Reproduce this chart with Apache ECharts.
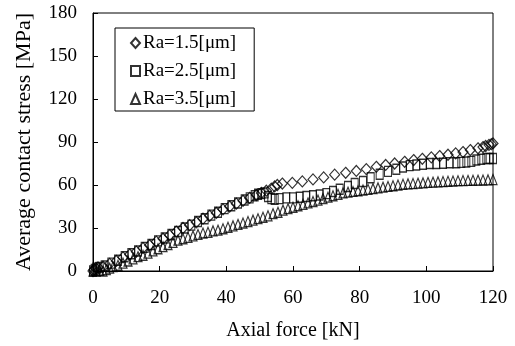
<!DOCTYPE html>
<html>
<head>
<meta charset="utf-8">
<script src="https://cdn.jsdelivr.net/npm/echarts@6/dist/echarts.min.js"></script>
<style>
html,body{margin:0;padding:0;background:#fff;}
#chart{width:515px;height:346px;}
</style>
</head>
<body>
<div id="chart"></div>
<script>
// Series names
const seriesNames = ['Ra=1.5[\u03bcm]', 'Ra=2.5[\u03bcm]', 'Ra=3.5[\u03bcm]'];

// Axial force [kN], average contact stress [MPa] pairs
const ra15 = [
  [0,0],[0.3,1],[0.8,2],[1.5,2.5],[3,3],[5,5],[7,7],[9,9.5],[11,11.5],[13,13.5],
  [15,16],[17,18],[19,20.5],[21,22.5],[23,25],[25,27.5],[27,30],[29,32],[31,34],[33,36.5],
  [35,38.5],[37,40.5],[39,43],[41,45],[43,47],[45,49],[47,51],[49,53],[50.5,54.5],[52,56],
  [53.5,57.5],[54.5,59],[55.3,60],
  [56.8,61],[59.8,61.5],[62.8,62.5],[66,63.9],[69.2,65.3],[72.5,67.2],[75.8,68.5],[79,69.8],
  [82,71.1],[85,72.7],[87.8,74],[90.5,75],[93.5,76.2],[96.2,77.4],[98.8,78.3],[101.5,79.3],
  [104,80.2],[106.5,81.1],[108.8,82.1],[111,83],[113.2,84.4],[115.5,85.6],[117,86.5],
  [117.8,87.2],[118.8,88],[119.5,88.5],[120,89]
];
const ra25 = [
  [0,0],[0.5,1],[1,2],[2,2.5],[3.5,3.5],[5.5,5.5],[7.5,7.5],[9.5,10],[11.5,12],[13.5,14],
  [15.5,16.5],[17.5,18.5],[19.5,21],[21.5,23],[23.5,25.5],[25.5,27.5],[27.5,30],[29.5,32],
  [31.5,34.5],[33.5,36.5],[35.5,39],[37.5,41],[39.5,43.5],[41.5,45.5],[43.5,47.5],[45.5,49.5],
  [47,51],[48.5,52.5],[49.5,53.5],[50.5,54],[51.5,54.5],[52.5,52],[53.5,50.5],[54.5,50],
  [56,50.5],[58,51],[60,51],[62,51.5],[64,52],[66,52.5],[68,53],[70,54],[72,55.5],[74,57],
  [76.5,59],[78.5,61],[81,62.5],[83.3,65],[86,67.5],[88.5,69.5],[91,71],[93,72.5],[95,73.5],
  [97,74],[99,74.5],[101,75],[103,75],[105,75.2],[107,75.5],[109,75.5],[110.5,75.8],[112,76],
  [113.5,76.5],[115,77.5],[116.5,78],[118,78.5],[119,78.5],[120,78.5]
];
const ra35 = [
  [0,0],[1,0],[2,0.5],[3,0],[4,1],[5,2],[6,3],[7.5,4],[9,5.5],[10.5,7],[12,8.5],[13.5,10],
  [15,11],[16.5,12.5],[18,14],[19.5,15.5],[21,17],[22.5,18.5],[24,20],[25.5,21.5],[27,22.5],
  [28.5,23.5],[30,24.5],[31.5,25.5],[33,26.5],[34.5,27],[36,28],[37.5,28.5],[39,29.5],
  [40.5,30.5],[42,31.5],[43.5,32.5],[45,33.5],[46.5,34.5],[48,35.5],[49.5,36.5],[51,37.5],
  [52.5,38.5],[54,40],[55.5,41],[57,42.5],[58.5,43.5],[60,44.5],[61.5,45.5],[63,46.5],
  [64.5,47.5],[66,48.5],[67.5,49.5],[69,50.5],[70.5,51.5],[72,52.5],[73.5,53.5],[75,54.5],
  [76.5,55],[78,55.5],[79.5,56],[81,56.5],[82.5,57],[84,57.5],[85.5,58],[87,58.5],[88.5,59],
  [90,59.5],[91.5,60],[93,60.5],[94.5,60.8],[96,61],[97.5,61.3],[99,61.5],[100.5,61.8],
  [102,62],[103.5,62.2],[105,62.4],[106.5,62.6],[108,62.8],[109.5,63],[111,63.1],[112.5,63.2],
  [114,63.3],[115.5,63.4],[117,63.5],[118.5,63.6],[120,63.8]
];

// Axis settings
const xMin = 0, xMax = 120, xStep = 20;
const yMin = 0, yMax = 180, yStep = 30;
const xTitle = 'Axial force [kN]';
const yTitle = 'Average contact stress [MPa]';

const FONT = "'Liberation Serif', 'Times New Roman', serif";
const chart = echarts.init(document.getElementById('chart'), null, {renderer: 'canvas'});

const markerStyle = {color: 'rgba(0,0,0,0)', borderColor: '#000', borderWidth: 1.2};

chart.setOption({
  animation: false,
  backgroundColor: '#fff',
  grid: {left: 93, right: 22, top: 13, bottom: 75, show: true, borderColor: '#000', borderWidth: 1, backgroundColor: 'transparent'},
  legend: {
    orient: 'vertical',
    left: 115, top: 28,
    padding: [5, 18, 2, 15],
    borderColor: '#000', borderWidth: 1,
    backgroundColor: '#fff',
    itemWidth: 9, itemHeight: 10, itemGap: 8,
    textStyle: {fontFamily: FONT, fontSize: 19, color: '#000', lineHeight: 20, padding: [0,0,0,-2]},
    data: [
      {name: seriesNames[0], icon: 'diamond'},
      {name: seriesNames[1], icon: 'rect'},
      {name: seriesNames[2], icon: 'triangle'}
    ]
  },
  xAxis: {
    type: 'value', min: xMin, max: xMax, interval: xStep,
    name: xTitle, nameLocation: 'middle', nameGap: 50,
    nameTextStyle: {fontFamily: FONT, fontSize: 20, color: '#000'},
    axisLine: {show: true, lineStyle: {color: '#000', width: 1}},
    axisTick: {show: true, inside: true, length: 5, lineStyle: {color: '#000'}},
    axisLabel: {fontFamily: FONT, fontSize: 19, color: '#000', margin: 18},
    splitLine: {show: false}
  },
  yAxis: {
    type: 'value', min: yMin, max: yMax, interval: yStep,
    name: yTitle, nameLocation: 'middle', nameGap: 58,
    nameTextStyle: {fontFamily: FONT, fontSize: 22, color: '#000'},
    axisLine: {show: true, lineStyle: {color: '#000', width: 1}},
    axisTick: {show: true, inside: true, length: 5, lineStyle: {color: '#000'}},
    axisLabel: {fontFamily: FONT, fontSize: 19, color: '#000', margin: 16},
    splitLine: {show: false}
  },
  series: [
    {name: seriesNames[0], type: 'scatter', symbol: 'diamond', symbolSize: [10, 11], data: ra15, itemStyle: markerStyle, z: 3},
    {name: seriesNames[1], type: 'scatter', symbol: 'rect', symbolSize: [7, 10], data: ra25, itemStyle: markerStyle, z: 2},
    {name: seriesNames[2], type: 'scatter', symbol: 'triangle', symbolSize: [8, 10], data: ra35, itemStyle: markerStyle, z: 1}
  ]
});
</script>
</body>
</html>
